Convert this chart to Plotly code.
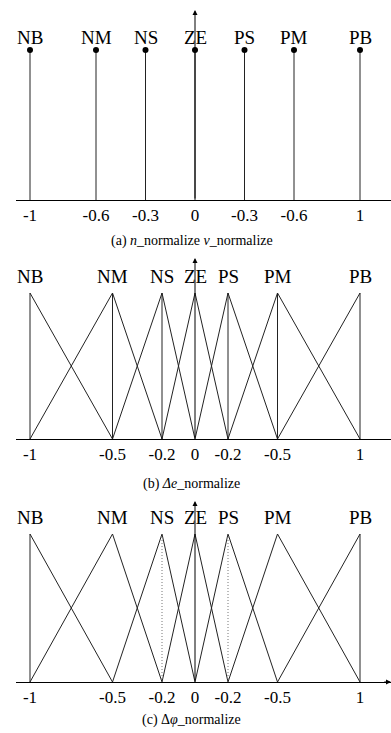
import plotly.graph_objects as go

# fuzzy set labels shared by all three panels
set_labels = ["NB", "NM", "NS", "ZE", "PS", "PM", "PB"]

# (a) singleton positions and their printed tick labels
singleton_pos = [-1, -0.6, -0.3, 0, 0.3, 0.6, 1]
singleton_ticks = ["-1", "-0.6", "-0.3", "0", "-0.3", "-0.6", "1"]

# (b)/(c) triangle centres and tick labels
tri_centres = [-1, -0.5, -0.2, 0, 0.2, 0.5, 1]
tri_ticks = ["-1", "-0.5", "-0.2", "0", "-0.2", "-0.5", "1"]

# vertical guides
verticals_b = [-1, -0.5, -0.2, 0.2, 0.5, 1]
verticals_c_solid = [-1, 1]
verticals_c_dotted = [-0.2, 0.2]

captions = ["(a) <i>n</i>_normalize <i>v</i>_normalize",
            "(b) <i>Δe</i>_normalize",
            "(c) Δ<i>φ</i>_normalize"]

SERIF = "Liberation Serif, Times New Roman, serif"
LINE = "#222222"
H = 733

fig = go.Figure()


def vlines(xs, top=1.0):
    x, y = [], []
    for v in xs:
        x += [v, v, None]
        y += [0, top, None]
    return x, y


def triangles(centres):
    x, y = [], []
    n = len(centres)
    for i, c in enumerate(centres):
        left = centres[i - 1] if i > 0 else c
        right = centres[i + 1] if i < n - 1 else c
        x += [left, c, right, None]
        y += [0 if i > 0 else 1, 1, 0 if i < n - 1 else 1, None]
    return x, y


# panel a: stems with dots
sx, sy = vlines(singleton_pos)
fig.add_trace(go.Scatter(x=sx, y=sy, mode="lines", line=dict(color=LINE, width=1),
                         xaxis="x", yaxis="y", hoverinfo="skip"))
fig.add_trace(go.Scatter(x=singleton_pos, y=[1] * len(singleton_pos), mode="markers",
                         marker=dict(color="black", size=6), xaxis="x", yaxis="y",
                         cliponaxis=False))

# panel b: triangles + solid verticals
tx, ty = triangles(tri_centres)
fig.add_trace(go.Scatter(x=tx, y=ty, mode="lines", line=dict(color=LINE, width=1),
                         xaxis="x2", yaxis="y2", hoverinfo="skip"))
vx, vy = vlines(verticals_b)
fig.add_trace(go.Scatter(x=vx, y=vy, mode="lines", line=dict(color=LINE, width=1),
                         xaxis="x2", yaxis="y2", hoverinfo="skip"))

# panel c: triangles + solid/dotted verticals
fig.add_trace(go.Scatter(x=tx, y=ty, mode="lines", line=dict(color=LINE, width=1),
                         xaxis="x3", yaxis="y3", hoverinfo="skip"))
vx, vy = vlines(verticals_c_solid)
fig.add_trace(go.Scatter(x=vx, y=vy, mode="lines", line=dict(color=LINE, width=1),
                         xaxis="x3", yaxis="y3", hoverinfo="skip"))
vx, vy = vlines(verticals_c_dotted)
fig.add_trace(go.Scatter(x=vx, y=vy, mode="lines",
                         line=dict(color="#777777", width=1, dash="1px,2px"),
                         xaxis="x3", yaxis="y3", hoverinfo="skip"))

# panel geometry (pixel rows of axis line and top of domain, px per unit)
panels = [
    dict(axis_px=200, top_px=0, scale=150, pos=singleton_pos, ticks=singleton_ticks,
         arrow_px=10, label_px=37, cap_px=241),
    dict(axis_px=439, top_px=250, scale=146, pos=tri_centres, ticks=tri_ticks,
         arrow_px=258, label_px=276, cap_px=484),
    dict(axis_px=682, top_px=492, scale=148, pos=tri_centres, ticks=tri_ticks,
         arrow_px=501, label_px=517, cap_px=720),
]

x_left = (16 - 195) / 165
x_right = (391 - 195) / 165

layout = {}
for i, p in enumerate(panels):
    sfx = "" if i == 0 else str(i + 1)
    top_val = (p["axis_px"] - p["top_px"]) / p["scale"]
    layout["xaxis" + sfx] = dict(
        domain=[16 / 391, 1], range=[x_left, x_right], anchor="y" + sfx,
        showline=True, linecolor="black", linewidth=1, showgrid=False, zeroline=False,
        tickmode="array", tickvals=p["pos"], ticktext=p["ticks"], ticks="",
        tickfont=dict(family=SERIF, size=17, color="black"), fixedrange=True)
    layout["yaxis" + sfx] = dict(
        domain=[1 - p["axis_px"] / H, 1 - p["top_px"] / H], range=[0, top_val],
        anchor="x" + sfx, visible=False, fixedrange=True)

    yref = "y" + sfx
    xref = "x" + sfx
    # vertical axis arrow
    fig.add_annotation(x=0, y=(p["axis_px"] - p["arrow_px"]) / p["scale"], ax=0, ay=0,
                       xref=xref, yref=yref, axref=xref, ayref=yref, text="",
                       showarrow=True, arrowhead=2, arrowsize=1, arrowwidth=1,
                       arrowcolor="black")
    # set labels
    for lab, xv in zip(set_labels, p["pos"]):
        fig.add_annotation(x=xv, y=(p["axis_px"] - p["label_px"]) / p["scale"],
                           xref=xref, yref=yref, text=lab, showarrow=False,
                           yanchor="middle",
                           font=dict(family=SERIF, size=19, color="black"))
    # caption
    fig.add_annotation(x=0.49, y=1 - p["cap_px"] / H, xref="paper", yref="paper",
                       text=captions[i], showarrow=False, xanchor="center",
                       yanchor="middle",
                       font=dict(family=SERIF, size=14, color="black"))

# right-hand arrowhead on the bottom axis
fig.add_annotation(x=x_right, y=0, ax=x_right - 0.05, ay=0, xref="x3", yref="y3",
                   axref="x3", ayref="y3", text="", showarrow=True, arrowhead=2,
                   arrowsize=1, arrowwidth=1, arrowcolor="black")

fig.update_layout(
    **layout,
    width=391, height=733,
    margin=dict(l=0, r=0, t=0, b=0),
    showlegend=False,
    plot_bgcolor="white", paper_bgcolor="white",
)

fig.write_html("out.html", config={"displayModeBar": False},
               post_script="document.body.style.margin='0px';")
